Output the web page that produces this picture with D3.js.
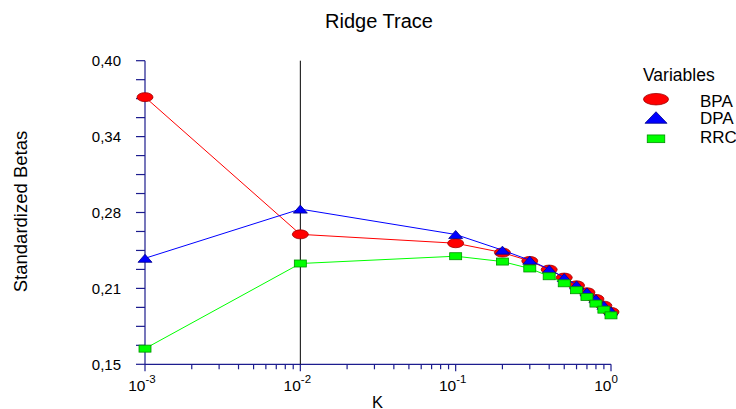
<!DOCTYPE html>
<html>
<head>
<meta charset="utf-8">
<script src="https://cdn.jsdelivr.net/npm/d3@7"></script>
<style>
  body { margin: 0; background: #fff; }
  svg { display: block; font-family: Arial, "Liberation Sans", sans-serif; }
</style>
</head>
<body>
<svg id="chart" width="736" height="409"></svg>
<script>
// K values (ridge parameter)
const kValues = [0.001, 0.01, 0.1, 0.2, 0.3, 0.4, 0.5, 0.6, 0.7, 0.8, 0.9, 1.0];

// standardized betas
const bpa = [0.370, 0.257, 0.2497, 0.242, 0.2351, 0.228, 0.2214, 0.215, 0.2093, 0.2038, 0.1983, 0.1931];
const dpa = [0.2373, 0.2778, 0.2569, 0.244, 0.2357, 0.2283, 0.2214, 0.2154, 0.2096, 0.204, 0.1986, 0.1939];
const rrc = [0.1629, 0.233, 0.239, 0.2346, 0.2289, 0.2225, 0.2167, 0.211, 0.2055, 0.2, 0.195, 0.1903];

const seriesNames = ['BPA', 'DPA', 'RRC'];
const yTickValues = [0.15, 0.2125, 0.275, 0.3375, 0.40];
const yTickLabels = ['0,15', '0,21', '0,28', '0,34', '0,40'];
const xDecades = [-3, -2, -1, 0];
const refK = 0.01;

const svg = d3.select('#chart');
const axisColor = '#1c1c8e';

const x = d3.scaleLog().domain([0.001, 1]).range([145, 611]);
const y = d3.scaleLinear().domain([0.15, 0.40]).range([364.3, 60.7]);

// Title
svg.append('text')
  .attr('x', 379).attr('y', 28)
  .attr('text-anchor', 'middle')
  .style('font-size', '20px')
  .text('Ridge Trace');

// Axis titles
svg.append('text')
  .attr('transform', 'translate(26.5,211.5) rotate(-90)')
  .attr('text-anchor', 'middle')
  .style('font-size', '18.5px')
  .text('Standardized Betas');

svg.append('text')
  .attr('x', 377.5).attr('y', 407.5)
  .attr('text-anchor', 'middle')
  .style('font-size', '16.5px')
  .text('K');

// Y axis
const yMinor = d3.range(0.15, 0.40001, 0.015625);
const yAxis = svg.append('g').attr('stroke', axisColor).attr('stroke-width', 1.2);
yAxis.append('line')
  .attr('x1', x(0.001)).attr('x2', x(0.001))
  .attr('y1', y(0.40)).attr('y2', y(0.15));
yAxis.selectAll('.ytick')
  .data(yMinor)
  .join('line')
  .attr('class', 'ytick')
  .attr('x1', x(0.001) - 9).attr('x2', x(0.001))
  .attr('y1', d => y(d)).attr('y2', d => y(d));

svg.selectAll('.ylabel')
  .data(yTickValues)
  .join('text')
  .attr('class', 'ylabel')
  .attr('x', 121)
  .attr('y', d => y(d))
  .attr('dy', '0.36em')
  .attr('text-anchor', 'end')
  .style('font-size', '15px')
  .text((d, i) => yTickLabels[i]);

// X axis
const xMinor = [];
xDecades.slice(0, -1).forEach(e => {
  for (let m = 1; m < 10; m++) xMinor.push(m * Math.pow(10, e));
});
xMinor.push(1);

const xAxis = svg.append('g').attr('stroke', axisColor).attr('stroke-width', 1.2);
xAxis.append('line')
  .attr('x1', x(0.001)).attr('x2', x(1))
  .attr('y1', y(0.15)).attr('y2', y(0.15));
xAxis.selectAll('.xtick')
  .data(xMinor)
  .join('line')
  .attr('class', 'xtick')
  .attr('x1', d => x(d)).attr('x2', d => x(d))
  .attr('y1', y(0.15))
  .attr('y2', d => y(0.15) + (Math.abs(Math.log10(d) - Math.round(Math.log10(d))) < 1e-9 ? 7 : 5));

const xLabels = svg.selectAll('.xlabel')
  .data(xDecades)
  .join('g')
  .attr('class', 'xlabel')
  .attr('transform', d => `translate(${x(Math.pow(10, d))},0)`);
xLabels.append('text')
  .attr('x', 0.5).attr('y', 390.5)
  .attr('text-anchor', 'end')
  .style('font-size', '15.5px')
  .text('10');
xLabels.append('text')
  .attr('x', 0.5).attr('y', 382.5)
  .style('font-size', '11.5px')
  .text(d => d === 0 ? '0' : '-' + Math.abs(d));

// Reference line at K = 0.01
svg.append('line')
  .attr('x1', x(refK)).attr('x2', x(refK))
  .attr('y1', y(0.40)).attr('y2', y(0.15))
  .attr('stroke', '#000').attr('stroke-width', 1);

// Series
const line = d3.line().x(d => x(d[0])).y(d => y(d[1]));
const series = [
  { name: 'BPA', values: bpa, color: '#ff0000', stroke: '#a00000', shape: 'ellipse' },
  { name: 'DPA', values: dpa, color: '#0000ff', stroke: '#00008a', shape: 'triangle' },
  { name: 'RRC', values: rrc, color: '#00ff00', stroke: '#009000', shape: 'rect' }
];

function drawMarker(g, shape, fill, stroke, w, h) {
  if (shape === 'ellipse') {
    g.append('ellipse').attr('rx', w / 2).attr('ry', h / 2)
      .attr('fill', fill).attr('stroke', stroke).attr('stroke-width', 0.8);
  } else if (shape === 'triangle') {
    g.append('path').attr('d', `M0,${-h / 2}L${w / 2},${h / 2}L${-w / 2},${h / 2}Z`)
      .attr('fill', fill).attr('stroke', stroke).attr('stroke-width', 0.8);
  } else {
    g.append('rect').attr('x', -w / 2).attr('y', -h / 2).attr('width', w).attr('height', h)
      .attr('fill', fill).attr('stroke', stroke).attr('stroke-width', 0.8);
  }
}

const markerSize = { ellipse: [16, 9], triangle: [14, 8], rect: [12, 7] };

series.forEach(s => {
  const pts = kValues.map((k, i) => [k, s.values[i]]);
  svg.append('path')
    .datum(pts)
    .attr('d', line)
    .attr('fill', 'none')
    .attr('stroke', s.color)
    .attr('stroke-width', 1);
  svg.selectAll('.m-' + s.name)
    .data(pts)
    .join('g')
    .attr('class', 'm-' + s.name)
    .attr('transform', d => `translate(${x(d[0])},${y(d[1])})`)
    .each(function () {
      const [w, h] = markerSize[s.shape];
      drawMarker(d3.select(this), s.shape, s.color, s.stroke, w, h);
    });
});

// Legend
const legend = svg.append('g');
legend.append('text')
  .attr('x', 643).attr('y', 80.7)
  .style('font-size', '17.5px')
  .text('Variables');
const legendSize = { ellipse: [25, 11.5], triangle: [22, 11.5], rect: [17.5, 7.7] };
const legendY = [99.2, 117.5, 138.8];
const legendBase = [106.6, 124.2, 142.6];
series.forEach((s, i) => {
  const g = legend.append('g').attr('transform', `translate(656,${legendY[i]})`);
  const [w, h] = legendSize[s.shape];
  drawMarker(g, s.shape, s.color, s.stroke, w, h);
  legend.append('text')
    .attr('x', 700).attr('y', legendBase[i])
    .style('font-size', '17px')
    .text(seriesNames[i]);
});
</script>
</body>
</html>
